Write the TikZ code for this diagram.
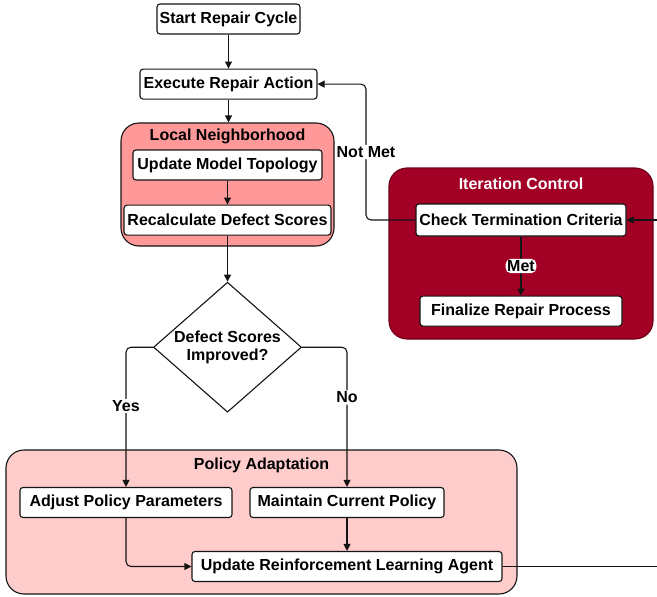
\documentclass[tikz,border=0pt]{standalone}
\usepackage{fontspec}
\setmainfont{Liberation Sans}
\usetikzlibrary{arrows.meta,positioning,shapes.geometric,calc,fit}
\definecolor{edgedark}{RGB}{20,20,20}
\definecolor{localfill}{RGB}{255,153,153}
\definecolor{iterfill}{RGB}{162,0,37}
\definecolor{policyfill}{RGB}{255,204,204}
\tikzset{
    line/.style   = {-{Triangle[length=7pt,width=7pt]}, line width=1.1pt, draw=edgedark, rounded corners=5pt},
    plainline/.style = {line width=1.1pt, draw=edgedark},
    block/.style  = {draw=edgedark, line width=1.1pt, fill=white,
            minimum height=30pt, inner xsep=2pt, inner ysep=2pt,
            align=center, rounded corners=3pt,
            font=\bfseries\fontsize{16}{18.5}\selectfont},
    decision/.style = {diamond, draw=edgedark, line width=1.1pt, fill=white,
            minimum width=148pt, minimum height=130pt, aspect=1.14,
            inner sep=0pt, align=center,
            font=\bfseries\fontsize{16}{18.5}\selectfont},
    group/.style  = {draw=edgedark, line width=1.1pt, rounded corners=18pt},
    grouptitle/.style = {font=\bfseries\fontsize{16}{18.5}\selectfont, inner sep=0pt},
    edgelabel/.style  = {fill=white, inner sep=1.5pt,
            font=\bfseries\fontsize{16}{18.5}\selectfont},
}
\begin{document}
\begin{tikzpicture}[x=1pt, y=-1pt]
    \useasboundingbox (0,0) rectangle (657,597);
    % Containers
    \node[group, fill=localfill, minimum width=213pt, minimum height=123pt] (local) at (227.5,184.5) {};
    \node[grouptitle] (localtitle) at ($(local.north)+(0,14)$) {Local Neighborhood};
    \node[group, fill=iterfill, draw=iterfill!65!black, minimum width=264pt, minimum height=171pt] (iter) at (521,253.5) {};
    \node[grouptitle, text=white] (itertitle) at ($(iter.north)+(0,16)$) {Iteration Control};
    \node[group, fill=policyfill, minimum width=511pt, minimum height=144pt] (policy) at (261.5,522) {};
    \node[grouptitle] (policytitle) at ($(policy.north)+(0,16)$) {Policy Adaptation};
    % Nodes
    \node[block, minimum width=143pt] (start) at (228.5,19) {Start Repair Cycle};
    \node[block, minimum width=177pt, below=34pt of start] (exec) {Execute Repair Action};
    \node[block, minimum width=189pt] (topo) at (227.5,165) {Update Model Topology};
    \node[block, minimum width=207pt, below=24pt of topo] (recalc) {Recalculate Defect Scores};
    \node[decision, below=46pt of recalc] (improved) {Defect Scores\\Improved?};
    \node[block, minimum width=210pt, minimum height=32pt] (check) at (521,220) {Check Termination Criteria};
    \node[block, minimum width=202pt, below=59pt of check] (final) {Finalize Repair Process};
    \node[block, minimum width=212pt] (adjust) at (126,502.5) {Adjust Policy Parameters};
    \node[block, minimum width=194pt] (maintain) at (347,502.5) {Maintain Current Policy};
    \node[block, minimum width=310pt] (agent) at (347,566.5) {Update Reinforcement Learning Agent};
    \coordinate (notmetbend) at (366,220);
    \coordinate (rightin) at (657,220);
    \coordinate (rightout) at (657,566.5);
    % Arrows
    \draw[line] (start) -- (exec);
    \draw[line] (exec.south) -- (exec.south |- local.north);
    \draw[line] (topo) -- (recalc);
    \draw[line] (recalc.south) -- (improved.north);
    \draw[line] (improved.west) -| node[pos=0.71, edgelabel]{Yes} (adjust.north);
    \draw[line] (improved.east) -| node[pos=0.68, edgelabel]{No} (maintain.north);
    \draw[line] (adjust.south) |- (agent.west);
    \draw[line] (maintain) -- (agent);
    \draw[plainline] (agent.east) -- (rightout);
    \draw[line] (rightin) -- (check.east);
    \draw[line] (check.west) -- (notmetbend) |- node[pos=0.25, edgelabel]{Not Met} (exec.east);
    \draw[line] (check) -- node[edgelabel]{Met} (final);
\end{tikzpicture}
\end{document}
